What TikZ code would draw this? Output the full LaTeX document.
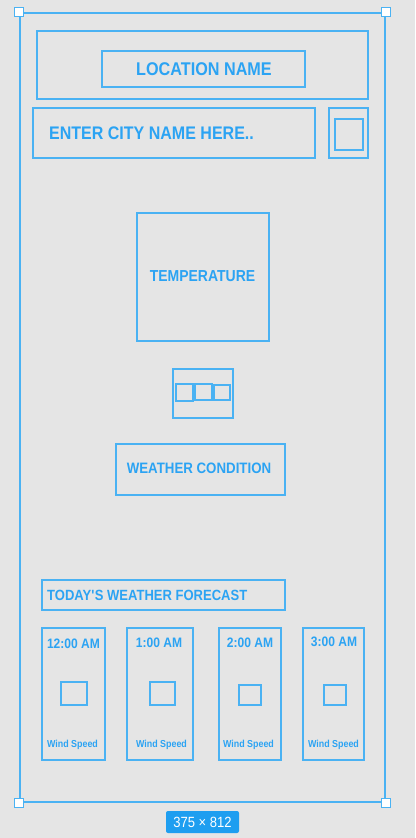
\documentclass[tikz,border=0pt]{standalone}
\usepackage{fontspec}
\setmainfont{Liberation Sans}[FakeStretch=0.88]
\definecolor{bgc}{HTML}{E5E5E5}
\definecolor{ln}{HTML}{4AB2F3}
\definecolor{tx}{HTML}{2BA3F3}
\definecolor{badge}{HTML}{1E9EF0}
\tikzset{
  box/.style={draw=ln, line width=1.6pt, inner sep=0pt, fill=none},
  handle/.style={draw=ln, fill=white, line width=1.3pt, minimum size=9pt, inner sep=0pt},
  lbl/.style={text=tx, inner sep=0pt, font=\bfseries\fontsize{#1}{#1}\selectfont},
  lbl/.default=15,
}
\begin{document}
\begin{tikzpicture}[x=1pt,y=-1pt]
\fill[bgc] (0,0) rectangle (415,838);
\useasboundingbox (0,0) rectangle (415,838);
% frame
\node[box, minimum width=365pt, minimum height=789pt] (frame) at (202.5,407.5) {};
\node[handle] (h1) at (frame.north west) {};
\node[handle] (h2) at (frame.north east) {};
\node[handle] (h3) at (frame.south west) {};
\node[handle] (h4) at (frame.south east) {};
% location
\node[box, minimum width=331pt, minimum height=68pt] (locouter) at (202.5,65) {};
\node[box, minimum width=203pt, minimum height=36pt] (locinner) at (203.5,69) {};
\node[lbl=18.4] (loctext) at (204,69) {LOCATION NAME};
% search
\node[box, minimum width=282pt, minimum height=50pt] (search) at (174,133) {};
\node[lbl=18.2, anchor=west] (searchtext) at (49,133) {ENTER CITY NAME HERE..};
\node[box, minimum width=39pt, minimum height=50pt] (btn) at (348.5,133) {};
\node[box, minimum width=28pt, minimum height=31pt] (btnicon) at (349,134.5) {};
% temperature
\node[box, minimum width=132pt, minimum height=128pt] (temp) at (203,277) {};
\node[lbl=15.9] (temptext) at (202.5,276) {TEMPERATURE};
% icons
\node[box, minimum width=60pt, minimum height=49pt] (iconbox) at (203,393.5) {};
\node[box, minimum width=17pt, minimum height=17pt] (ic1) at (184.5,392.5) {};
\node[box, minimum width=17pt, minimum height=16pt] (ic2) at (203.5,392) {};
\node[box, minimum width=16pt, minimum height=15pt] (ic3) at (222,392.5) {};
% weather condition
\node[box, minimum width=169pt, minimum height=51pt] (cond) at (200.5,469.5) {};
\node[lbl=15.1] (condtext) at (199,468) {WEATHER CONDITION};
% forecast header
\node[box, minimum width=243pt, minimum height=30pt] (fhead) at (163.5,595) {};
\node[lbl=14.8, anchor=west] (fheadtext) at (47,595) {TODAY\textquotesingle S WEATHER FORECAST};
% cards
\node[box, minimum width=63pt, minimum height=132pt] (c1) at (73.5,694) {};
\node[box, minimum width=66pt, minimum height=132pt] (c2) at (160,694) {};
\node[box, minimum width=62pt, minimum height=132pt] (c3) at (250,694) {};
\node[box, minimum width=61pt, minimum height=132pt] (c4) at (333.5,694) {};
\node[lbl=13.7] (t1) at (73.5,644) {12:00 AM};
\node[lbl=13.7] (t2) at (159,643) {1:00 AM};
\node[lbl=13.7] (t3) at (250,643) {2:00 AM};
\node[lbl=13.7] (t4) at (334,642) {3:00 AM};
\node[box, minimum width=26pt, minimum height=23pt] (s1) at (74,693.5) {};
\node[box, minimum width=25pt, minimum height=23pt] (s2) at (162.5,693.5) {};
\node[box, minimum width=22pt, minimum height=20pt] (s3) at (250,695) {};
\node[box, minimum width=22pt, minimum height=20pt] (s4) at (335,695) {};
\node[lbl=10.1] (w1) at (72.5,745) {Wind Speed};
\node[lbl=10.1] (w2) at (161.5,745) {Wind Speed};
\node[lbl=10.1] (w3) at (248.5,745) {Wind Speed};
\node[lbl=10.1] (w4) at (333.5,745) {Wind Speed};
% badge
\node[fill=badge, rounded corners=2pt, minimum width=73pt, minimum height=22pt, inner sep=0pt,
  text=white, font=\fontsize{14.8}{14.8}\selectfont] (size) at (202.5,822) {375 × 812};
\end{tikzpicture}
\end{document}
